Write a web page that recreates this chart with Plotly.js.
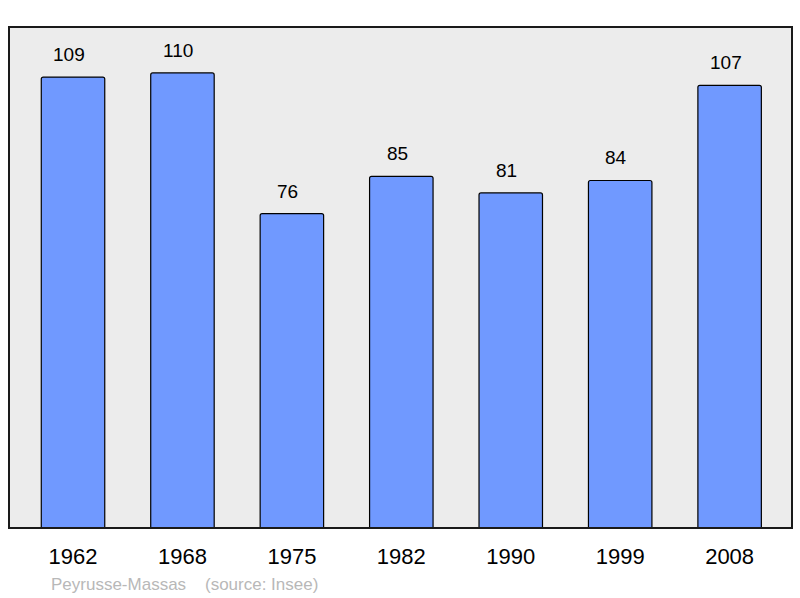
<!DOCTYPE html>
<html>
<head>
<meta charset="utf-8">
<script src="https://cdn.plot.ly/plotly-3.0.1.min.js"></script>
<style>html,body{margin:0;padding:0;background:#fff;}#chart{width:800px;height:598px;}</style>
</head>
<body>
<div id="chart"></div>
<script>
var years = ["1962", "1968", "1975", "1982", "1990", "1999", "2008"];
var population = [109, 110, 76, 85, 81, 84, 107];
var footerText = "Peyrusse-Massas&nbsp;&nbsp;&nbsp;&nbsp;(source: Insee)";

var trace = {
  type: "bar",
  x: years,
  y: population,
  width: 0.58,
  marker: {color: "#7099ff", line: {color: "#000000", width: 1.2}, cornerradius: 2},
  hoverinfo: "none"
};

var annotations = years.map(function (yr, i) {
  return {
    x: i, y: population[i], xref: "x", yref: "y",
    text: String(population[i]), showarrow: false,
    yanchor: "bottom", yshift: 10, xshift: -4,
    font: {family: "Liberation Sans, Arial, sans-serif", size: 19, color: "#000"}
  };
});
annotations.push({
  xref: "paper", yref: "paper", x: 0.051, y: -0.112,
  xanchor: "left", yanchor: "middle",
  text: footerText, showarrow: false,
  font: {family: "Liberation Sans, Arial, sans-serif", size: 17, color: "#b8b8b8"}
});

var layout = {
  width: 800, height: 598,
  margin: {l: 9, r: 8, t: 27, b: 70, pad: 0},
  paper_bgcolor: "#ffffff",
  plot_bgcolor: "#ececec",
  showlegend: false,
  xaxis: {
    type: "category", range: [-0.585, 6.57],
    showgrid: false, zeroline: false, showline: false,
    ticks: "outside", ticklen: 9, tickcolor: "rgba(0,0,0,0)",
    tickfont: {family: "Liberation Sans, Arial, sans-serif", size: 22, color: "#000"},
    fixedrange: true
  },
  yaxis: {
    range: [0, 121.1], showgrid: false, zeroline: false,
    showticklabels: false, ticks: "", showline: false, fixedrange: true
  },
  shapes: [{
    type: "rect", xref: "paper", yref: "paper", x0: 0, x1: 1, y0: 0, y1: 1,
    line: {color: "#1a1a1a", width: 2}, fillcolor: "rgba(0,0,0,0)", layer: "above"
  }],
  annotations: annotations
};

Plotly.newPlot("chart", [trace], layout, {staticPlot: true, displayModeBar: false});
</script>
</body>
</html>
